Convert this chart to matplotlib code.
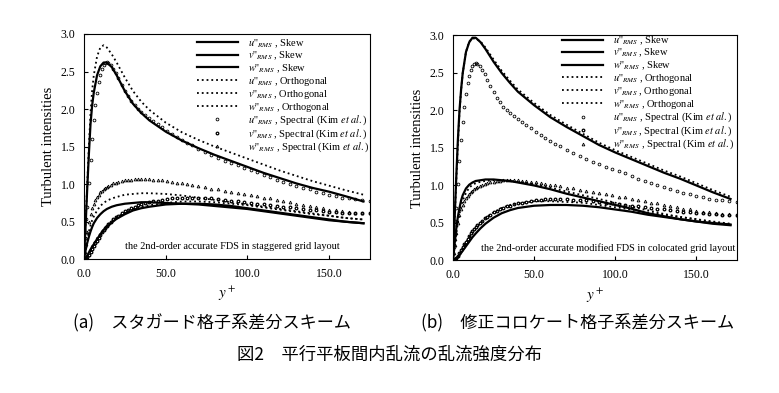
import matplotlib
matplotlib.use("Agg")
import matplotlib.pyplot as plt

plt.rcParams['font.family'] = ['Liberation Serif', 'DejaVu Serif']
plt.rcParams['mathtext.fontset'] = 'stix'

# wall distance of the computed profiles (both schemes)
y_line = [0, 1, 2, 3, 4, 5, 6, 8, 10, 12, 14, 17, 20, 25, 30, 35, 40, 50, 60,
          70, 80, 90, 100, 110, 120, 130, 140, 150, 160, 171]

# (a) staggered grid
a_u_skew = [0, 0.45, 0.95, 1.4, 1.8, 2.05, 2.22, 2.45, 2.57, 2.62, 2.62, 2.56, 2.45, 2.24, 2.07,
            1.95, 1.85, 1.7, 1.58, 1.48, 1.39, 1.31, 1.23, 1.15, 1.08, 1.01, 0.95, 0.9, 0.84, 0.77]
a_v_skew = [0, 0.02, 0.05, 0.09, 0.13, 0.17, 0.2, 0.27, 0.33, 0.39, 0.43, 0.49, 0.54, 0.6, 0.65,
            0.68, 0.7, 0.73, 0.74, 0.74, 0.73, 0.71, 0.68, 0.65, 0.62, 0.59, 0.56, 0.53, 0.5, 0.48]
a_w_skew = [0, 0.12, 0.22, 0.3, 0.37, 0.43, 0.48, 0.55, 0.6, 0.64, 0.67, 0.7, 0.72, 0.74, 0.75,
            0.76, 0.76, 0.75, 0.74, 0.73, 0.71, 0.69, 0.67, 0.64, 0.61, 0.58, 0.55, 0.52, 0.5, 0.48]
a_u_orth = [0, 0.5, 1.0, 1.5, 1.95, 2.25, 2.45, 2.7, 2.82, 2.85, 2.82, 2.73, 2.62, 2.42, 2.24,
            2.1, 1.99, 1.82, 1.69, 1.59, 1.5, 1.42, 1.34, 1.26, 1.18, 1.11, 1.04, 0.98, 0.92, 0.86]
a_v_orth = [0, 0.02, 0.05, 0.09, 0.13, 0.17, 0.21, 0.28, 0.34, 0.4, 0.45, 0.51, 0.56, 0.62, 0.67,
            0.7, 0.72, 0.75, 0.77, 0.77, 0.76, 0.74, 0.72, 0.69, 0.66, 0.63, 0.6, 0.58, 0.55, 0.53]
a_w_orth = [0, 0.15, 0.27, 0.37, 0.45, 0.52, 0.57, 0.65, 0.71, 0.75, 0.78, 0.81, 0.83, 0.86, 0.87,
            0.88, 0.88, 0.87, 0.85, 0.82, 0.79, 0.76, 0.73, 0.7, 0.67, 0.64, 0.61, 0.58, 0.55, 0.53]

# (b) modified colocated grid
b_u_skew = [0, 0.55, 1.1, 1.6, 2.0, 2.28, 2.5, 2.78, 2.91, 2.97, 2.97, 2.91, 2.82, 2.65, 2.5,
            2.37, 2.25, 2.07, 1.91, 1.78, 1.66, 1.54, 1.44, 1.35, 1.26, 1.17, 1.09, 1.0, 0.91, 0.82]
b_v_skew = [0, 0.01, 0.02, 0.04, 0.07, 0.1, 0.13, 0.19, 0.25, 0.31, 0.36, 0.43, 0.49, 0.57, 0.63,
            0.67, 0.7, 0.73, 0.74, 0.74, 0.73, 0.71, 0.68, 0.65, 0.61, 0.58, 0.55, 0.52, 0.5, 0.48]
b_w_skew = [0, 0.22, 0.42, 0.58, 0.7, 0.8, 0.87, 0.96, 1.01, 1.04, 1.06, 1.07, 1.08, 1.08, 1.07,
            1.06, 1.04, 1.0, 0.95, 0.89, 0.84, 0.79, 0.74, 0.69, 0.63, 0.59, 0.55, 0.52, 0.49, 0.47]
b_u_orth = [0, 0.52, 1.05, 1.55, 1.97, 2.27, 2.5, 2.78, 2.92, 2.96, 2.96, 2.92, 2.84, 2.68, 2.53,
            2.4, 2.28, 2.1, 1.94, 1.81, 1.69, 1.57, 1.47, 1.38, 1.29, 1.2, 1.12, 1.03, 0.94, 0.85]
b_v_orth = [0, 0.01, 0.03, 0.06, 0.09, 0.13, 0.17, 0.24, 0.31, 0.37, 0.43, 0.5, 0.57, 0.64, 0.7,
            0.74, 0.76, 0.79, 0.79, 0.78, 0.77, 0.74, 0.71, 0.68, 0.64, 0.61, 0.58, 0.55, 0.52, 0.49]
b_w_orth = [0, 0.18, 0.35, 0.5, 0.62, 0.72, 0.8, 0.9, 0.97, 1.01, 1.03, 1.05, 1.06, 1.07, 1.07,
            1.06, 1.05, 1.02, 0.97, 0.92, 0.87, 0.82, 0.77, 0.72, 0.67, 0.62, 0.58, 0.55, 0.51, 0.48]

# spectral DNS of Kim et al.
y_kim = [0.5, 1, 1.5, 2, 3, 4, 5, 6, 7, 8, 9, 10, 11, 12, 13, 14, 15, 16.5, 18, 19.5, 21, 23, 25,
         27, 29, 31, 33, 35, 37.5, 40, 42.5, 45, 48, 51, 54, 57, 60, 63, 66, 70, 74, 78, 82, 86,
         90, 94, 98, 102, 106, 110, 114, 118, 122, 126, 130, 134, 138, 142, 146, 150, 154, 158,
         162, 166, 170, 175]
u_kim = [0.18, 0.36, 0.53, 0.7, 1.02, 1.32, 1.6, 1.85, 2.05, 2.22, 2.36, 2.46, 2.54, 2.59, 2.62,
         2.63, 2.62, 2.59, 2.54, 2.48, 2.41, 2.32, 2.24, 2.17, 2.11, 2.05, 2.0, 1.96, 1.92, 1.88,
         1.84, 1.8, 1.76, 1.71, 1.67, 1.63, 1.59, 1.55, 1.52, 1.47, 1.43, 1.39, 1.35, 1.31, 1.28,
         1.25, 1.22, 1.19, 1.16, 1.12, 1.09, 1.06, 1.03, 1.0, 0.98, 0.95, 0.93, 0.9, 0.88, 0.86,
         0.84, 0.82, 0.81, 0.8, 0.79, 0.78]
v_kim = [0.0, 0.01, 0.02, 0.03, 0.06, 0.1, 0.14, 0.18, 0.22, 0.25, 0.29, 0.33, 0.36, 0.39, 0.42,
         0.45, 0.47, 0.5, 0.53, 0.56, 0.58, 0.61, 0.64, 0.66, 0.68, 0.7, 0.72, 0.73, 0.75, 0.76,
         0.77, 0.78, 0.79, 0.8, 0.81, 0.82, 0.82, 0.82, 0.82, 0.82, 0.81, 0.81, 0.8, 0.79, 0.78,
         0.77, 0.76, 0.75, 0.74, 0.73, 0.72, 0.71, 0.7, 0.69, 0.68, 0.67, 0.66, 0.65, 0.64, 0.63,
         0.63, 0.62, 0.62, 0.61, 0.61, 0.61]
w_kim = [0.1, 0.2, 0.29, 0.37, 0.5, 0.6, 0.68, 0.74, 0.79, 0.83, 0.86, 0.89, 0.91, 0.93, 0.95,
         0.96, 0.98, 0.99, 1.01, 1.02, 1.03, 1.04, 1.05, 1.06, 1.06, 1.07, 1.07, 1.07, 1.07, 1.07,
         1.06, 1.06, 1.05, 1.04, 1.03, 1.02, 1.01, 1.0, 0.99, 0.97, 0.96, 0.94, 0.93, 0.91, 0.9,
         0.88, 0.87, 0.85, 0.84, 0.82, 0.81, 0.79, 0.77, 0.76, 0.74, 0.72, 0.71, 0.69, 0.68, 0.66,
         0.65, 0.64, 0.63, 0.62, 0.62, 0.61]

y_ticks = [0.0, 0.5, 1.0, 1.5, 2.0, 2.5, 3.0]
x_ticks = [0.0, 50.0, 100.0, 150.0]

labels = [r"$u$''$_{RMS}$ , Skew", r"$v$''$_{RMS}$ , Skew", r"$w$''$_{RMS}$ , Skew",
          r"$u$''$_{RMS}$ , Orthogonal", r"$v$''$_{RMS}$ , Orthogonal", r"$w$''$_{RMS}$ , Orthogonal",
          r"$u$''$_{RMS}$ , Spectral (Kim $et\ al.$)", r"$v$''$_{RMS}$ , Spectral (Kim $et\ al.$)",
          r"$w$''$_{RMS}$ , Spectral (Kim $et\ al.$)"]


def draw_panel(ax, skew, orth, note, note_x, leg_anchor):
	# computed profiles: solid = skew, dotted = orthogonal
	for prof, lab in zip(skew, labels[0:3]):
		ax.plot(y_line, prof, '-', color='black', lw=1.6, label=lab)
	for prof, lab in zip(orth, labels[3:6]):
		ax.plot(y_line, prof, ':', color='black', lw=1.3, label=lab)

	# reference DNS
	ax.plot(y_kim, u_kim, 'o', ms=2.0, mfc='none', mec='black', mew=0.6, label=labels[6])
	ax.plot(y_kim, v_kim, 'o', ms=1.9, mfc='none', mec='black', mew=0.9, label=labels[7])
	ax.plot(y_kim, w_kim, '^', ms=2.0, mfc='none', mec='black', mew=0.6, label=labels[8])

	ax.set_xlim(0, 175)
	ax.set_ylim(0, 3.0)
	ax.set_xticks(x_ticks)
	ax.set_yticks(y_ticks)
	ax.set_xticklabels(["%.1f" % t for t in x_ticks])
	ax.set_yticklabels(["%.1f" % t for t in y_ticks])
	ax.tick_params(direction='in', length=3, labelsize=8.5, pad=6)
	ax.set_ylabel("Turbulent intensities", fontsize=10.5, labelpad=4)
	ax.set_xlabel(r"$y^+$", fontsize=11, labelpad=4)

	ax.text(note_x, 0.035, note, transform=ax.transAxes, ha='center', va='bottom', fontsize=7.4)

	ax.legend(loc='upper left', bbox_to_anchor=leg_anchor, bbox_transform=ax.figure.transFigure,
	          frameon=False, fontsize=7.5, handlelength=3.9, handletextpad=1.0,
	          labelspacing=0.0, borderpad=0, borderaxespad=0, numpoints=1)


fig = plt.figure(figsize=(7.79, 3.93), dpi=100)
ax_a = fig.add_axes([0.1078, 0.3402, 0.3672, 0.5733])
ax_b = fig.add_axes([0.5815, 0.3372, 0.3646, 0.5725])

draw_panel(ax_a, [a_u_skew, a_v_skew, a_w_skew], [a_u_orth, a_v_orth, a_w_orth],
           "the 2nd-order accurate FDS in staggered grid layout", 0.52, (0.253, 0.905))
draw_panel(ax_b, [b_u_skew, b_v_skew, b_w_skew], [b_u_orth, b_v_orth, b_w_orth],
           "the 2nd-order accurate modified FDS in colocated grid layout", 0.545, (0.722, 0.912))

cjk = ['Noto Sans CJK JP', 'DejaVu Sans']
fig.text(0.272, 1 - 323 / 393, "(a)\u3000スタガード格子系差分スキーム", ha='center', va='center',
         fontsize=12.3, family=cjk)
fig.text(0.742, 1 - 323 / 393, "(b)\u3000修正コロケート格子系差分スキーム", ha='center', va='center',
         fontsize=12.3, family=cjk)
fig.text(0.5, 1 - 355 / 393, "図2\u3000平行平板間内乱流の乱流強度分布", ha='center', va='center',
         fontsize=12.5, family=cjk)

fig.savefig("out.png", dpi=100)
